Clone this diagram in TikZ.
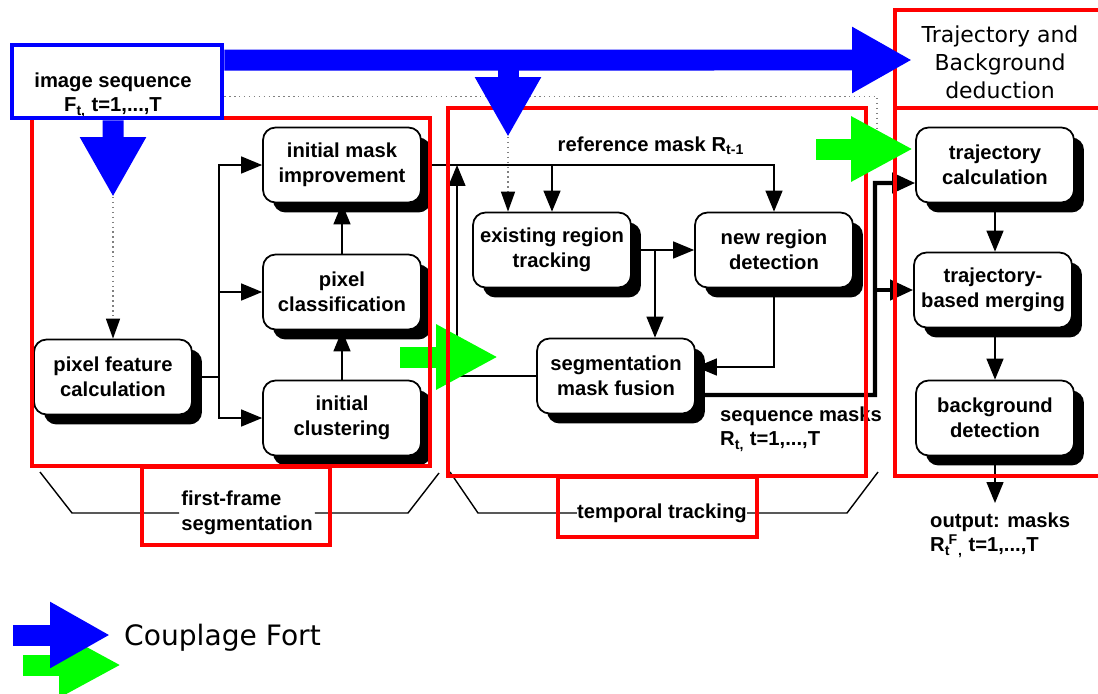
\documentclass[tikz,border=0pt]{standalone}
\usepackage{fontspec}
\setmainfont{Liberation Sans}
\newfontfamily\legendfont{DejaVu Sans}
\usetikzlibrary{arrows.meta,shadows}

\begin{document}
\begin{tikzpicture}[x=0.02cm,y=-0.02cm,
	font=\bfseries\fontsize{11.5}{14}\selectfont,
	>={Triangle[length=0.42cm,width=0.34cm]},
	stage/.style={draw,line width=1pt,fill=white,rounded corners=0.25cm,minimum width=3.16cm,minimum height=1.5cm,align=center,
		drop shadow={shadow xshift=0.2cm,shadow yshift=-0.2cm,fill=black,opacity=1}},
	link/.style={line width=0.8pt,->},
	hint/.style={gray,dotted,line width=0.8pt},
	bus/.style={line width=2.3pt,-{Triangle[length=0.46cm,width=0.4cm]}},
	panel/.style={red,line width=2pt},
	brace/.style={line width=0.8pt},
	bigblue/.style={blue,line width=0.42cm,-{Triangle[length=1.2cm,width=1.24cm]}},
	biggreen/.style={green,line width=0.42cm,-{Triangle[length=1.24cm,width=1.22cm]}}]
	\useasboundingbox (0,0) rectangle (1098,693);

	\node[stage] (pfc) at (113,377) {pixel feature\\calculation};
	\node[stage] (imi) at (342,165) {initial mask\\improvement};
	\node[stage] (pc) at (342,292) {pixel\\classification};
	\node[stage] (ic) at (342,418) {initial\\clustering};
	\node[stage] (ert) at (552,250) {existing region\\tracking};
	\node[stage] (nrd) at (774,250) {new region\\detection};
	\node[stage] (smf) at (616,376) {segmentation\\mask fusion};
	\node[stage] (tc) at (995,165) {trajectory\\calculation};
	\node[stage] (tbm) at (993,290) {trajectory-\\based merging};
	\node[stage] (bd) at (995,418) {background\\detection};

	\coordinate (split) at (219,377);
	\draw[line width=0.8pt] (pfc) -- (split);
	\draw[link] (split) |- (imi);
	\draw[link] (split) |- (pc);
	\draw[link] (split) |- (ic);
	\draw[link] (ic) -- (pc);
	\draw[link] (pc) -- (imi);

	\coordinate (refin) at (457,165);
	\coordinate (ertout) at (655,250);
	\draw[link] (imi) -| (nrd);
	\draw[link] (ert |- imi) -- (ert);
	\draw[link] (smf) -| (refin);
	\draw[link] (ert) -- (nrd);
	\draw[link] (ertout) -- (ertout |- smf.north);
	\draw[link] (nrd) |- ([yshift=0.18cm]smf.east);
	\node (refmask) at (651,146) {reference mask R\textsubscript{t-1}};
	\node[anchor=west,align=left] (seqmask) at (714,429) {sequence masks\\R\textsubscript{t,} t=1,...,T};

	\coordinate (busA) at (875,395);
	\coordinate (busB) at (875,183);
	\coordinate (busC) at (875,290);
	\draw[bus] ([yshift=-0.38cm]smf.east) -- (busA) -- (busB) -- (tc.west |- busB);
	\draw[bus] (busC) -- (tbm);

	\coordinate (outtip) at (995,503);
	\draw[link] (tc) -- (tbm.north -| tc);
	\draw[link] (tbm.south -| bd) -- (bd);
	\draw[link] (bd) -- (outtip);
	\node[anchor=west,align=left] (out) at (924,535) {output: masks\\R\textsubscript{t}\kern-1pt\textsuperscript{F}\textsubscript{,} t=1,...,T};

	\node[align=left,inner sep=1pt] (ffs) at (247,513) {first-frame\\segmentation};
	\draw[brace] (40,472) -- (72,513) -- (ffs.west);
	\draw[brace] (ffs.east) -- (408,513) -- (439,473);
	\node[inner sep=0pt] (tt) at (662,513) {temporal tracking};
	\draw[brace] (450,472) -- (478,513) -- (tt.west);
	\draw[brace] (tt.east) -- (847,513) -- (878,472);

	\coordinate (greenA) at (400,357);
	\coordinate (greentipA) at (498,357);
	\draw[biggreen] (greenA) -- (greentipA);

	\draw[panel] (32,118) rectangle (430,466);
	\draw[panel] (448,108) rectangle (866,476);
	\draw[panel] (895,10) rectangle (1110,108);
	\draw[panel] (895,108) rectangle (1110,476);
	\draw[panel] (142,467) rectangle (330,545);
	\draw[panel] (558,477) rectangle (757,537);
	\node[align=center,font=\legendfont\fontsize{12.5}{16}\selectfont] (deduce) at (1000,62) {Trajectory and\\Background\\deduction};

	\node[align=center] (seq) at (113,95) {image sequence\\F\textsubscript{t,} t=1,...,T};
	\node[draw=blue,line width=2.6pt,minimum width=4.2cm,minimum height=1.46cm,inner sep=0pt] (seqbox) at (117,81.5) {};
	\coordinate (feed) at (877,140);
	\draw[hint] ([yshift=-0.3cm]seqbox.east) -| (feed);

	\coordinate (bluetipA) at (113,197);
	\coordinate (bluetipB) at (508,137);
	\coordinate (blueend) at (912,60);
	\draw[hint,-{Triangle[length=0.4cm,width=0.28cm,color=black]}] (bluetipA) -- (pfc);
	\draw[hint,-{Triangle[length=0.4cm,width=0.28cm,color=black]}] (bluetipB) -- (bluetipB |- ert.north);
	\draw[bigblue] ([yshift=0.43cm]seqbox.east) -- (blueend);
	\draw[bigblue] ([xshift=-0.08cm]seqbox.south) -- (bluetipA);
	\draw[bigblue] (508,60) -- (bluetipB);

	\coordinate (greenB) at (816,149);
	\coordinate (greentipB) at (913,149);
	\draw[biggreen] (greenB) -- (greentipB);

	\draw[biggreen] (23,665) -- (121,665);
	\draw[bigblue] (13,635) -- (110,635);
	\node[anchor=west,font=\legendfont\fontsize{16}{19}\selectfont] (legend) at (118,638) {Couplage Fort};
\end{tikzpicture}
\end{document}
